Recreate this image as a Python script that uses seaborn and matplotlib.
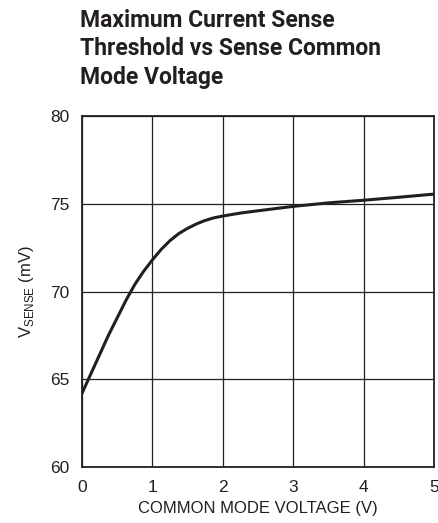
import matplotlib
matplotlib.use("Agg")
import matplotlib.pyplot as plt
import seaborn as sns
import pandas as pd

# values
common_mode_v = [0, 0.125, 0.25, 0.375, 0.5, 0.625, 0.75, 0.875, 1.0, 1.125, 1.25,
                 1.375, 1.5, 1.625, 1.75, 1.875, 2.0, 2.25, 2.5, 3.0, 3.5, 4.0, 4.5, 5.0]
v_sense_mv = [64.2, 65.3, 66.4, 67.5, 68.5, 69.5, 70.4, 71.15, 71.8, 72.4, 72.9,
              73.3, 73.6, 73.85, 74.05, 74.2, 74.3, 74.47, 74.6, 74.85, 75.05, 75.2, 75.37, 75.55]
x_ticks = [0, 1, 2, 3, 4, 5]
y_ticks = [60, 65, 70, 75, 80]

sns.set_style("white")
FONT = ["Liberation Sans Narrow", "Liberation Sans", "DejaVu Sans"]
plt.rcParams["font.family"] = FONT
plt.rcParams["mathtext.fontset"] = "custom"
plt.rcParams["mathtext.rm"] = "Liberation Sans"

df = pd.DataFrame({"x": common_mode_v, "y": v_sense_mv})

fig = plt.figure(figsize=(4.39, 5.23), dpi=100)
ax = fig.add_axes([82 / 439, 1 - 467 / 523, (434 - 82) / 439, (467 - 116) / 523])

sns.lineplot(data=df, x="x", y="y", ax=ax, color="#231f20", linewidth=2.2)

ax.set_xlim(0, 5)
ax.set_ylim(60, 80)
ax.set_xticks(x_ticks)
ax.set_yticks(y_ticks)
ax.grid(True, color="#231f20", linewidth=0.9)
for s in ax.spines.values():
    s.set_color("#231f20")
    s.set_linewidth(1.3)
ax.tick_params(length=0, labelsize=12.5, colors="#231f20")
ax.tick_params(axis="x", pad=9)
ax.tick_params(axis="y", pad=9)

ax.set_xlabel("COMMON MODE VOLTAGE (V)", fontsize=12, color="#231f20", labelpad=5)
ax.set_ylabel(r"V$_{\mathrm{SENSE}}$ (mV)", fontsize=12, color="#231f20", labelpad=10)

fig.text(80 / 439, 1 - 9 / 523, "Maximum Current Sense\nThreshold vs Sense Common\nMode Voltage",
         ha="left", va="top", fontsize=16.5, fontweight="bold", color="#231f20",
         linespacing=1.3, family=["Roboto", "DejaVu Sans"])

fig.savefig("out.png", dpi=100)
